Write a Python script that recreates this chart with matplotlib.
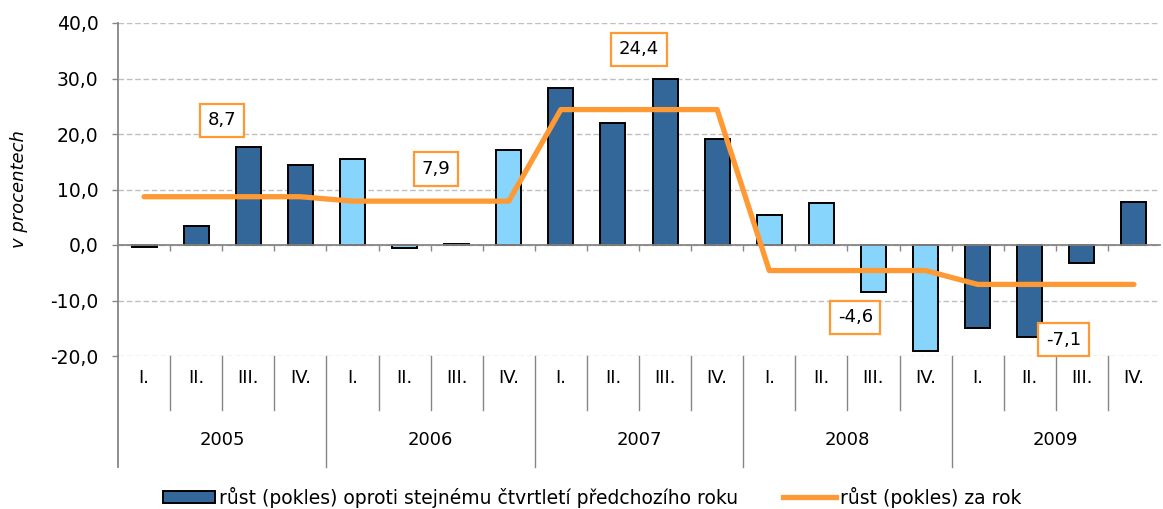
import matplotlib
matplotlib.use("Agg")
import matplotlib.pyplot as plt
from matplotlib.patches import Patch
from matplotlib.lines import Line2D
import matplotlib.transforms as mtransforms

plt.rcParams['font.family'] = ['DejaVu Sans']
FS = 13

# data
years = ["2005", "2006", "2007", "2008", "2009"]
quarters = ["I.", "II.", "III.", "IV."]
quarterly = [-0.3, 3.4, 17.6, 14.4,
             15.5, -0.5, 0.2, 17.1,
             28.3, 22.0, 29.9, 19.1,
             5.4, 7.6, -8.5, -19.1,
             -15.0, -16.6, -3.2, 7.7]
annual = [8.7, 7.9, 24.4, -4.6, -7.1]
light_years = ["2006", "2008"]
# where the value boxes sit
label_x = [1.5, 5.6, 9.5, 13.65, 17.65]
label_y = [22.5, 13.7, 35.3, -13.0, -17.1]

dark = "#336699"
light = "#87D5FC"
orange = "#FF9933"
grid_c = "#BFBFBF"
axis_c = "#868686"

fig = plt.figure(figsize=(11.63, 5.09), dpi=100)
ax = fig.add_axes([118 / 1163, 1 - 356 / 509, (1160 - 118) / 1163, (356 - 23) / 509])

n = len(quarterly)
x = list(range(n))
colors = []
for y in years:
    colors += [light if y in light_years else dark] * 4
ax.bar(x, quarterly, width=0.48, color=colors, edgecolor="black", linewidth=1.4, zorder=3)

line_vals = []
for v in annual:
    line_vals += [v] * 4
ax.plot(x, line_vals, color=orange, linewidth=3.8, solid_joinstyle="round",
        solid_capstyle="round", zorder=4)

for i, v in enumerate(annual):
    ax.text(label_x[i], label_y[i], f"{v:.1f}".replace(".", ","), ha="center", va="center",
            fontsize=FS, zorder=5,
            bbox=dict(boxstyle="square,pad=0.42", fc="white", ec=orange, lw=1.6))

ax.set_xlim(-0.5, n - 0.5)
ax.set_ylim(-20, 40)
ax.set_yticks(range(-20, 41, 10))
ax.set_yticklabels([f"{t:.1f}".replace(".", ",") for t in range(-20, 41, 10)], fontsize=FS + 0.5)
ax.yaxis.grid(True, color=grid_c, linestyle=(0, (4, 2)), linewidth=1)
ax.set_axisbelow(True)
ax.tick_params(axis="y", length=4, color=axis_c, width=1, pad=10)
ax.set_ylabel("v procentech", fontsize=FS, style="italic")
ax.yaxis.set_label_coords(-0.086, 0.5)

for s in ["top", "right"]:
    ax.spines[s].set_visible(False)
ax.spines["left"].set_color(axis_c)
ax.spines["left"].set_linewidth(1.3)
ax.spines["bottom"].set_position(("data", 0))
ax.spines["bottom"].set_color(axis_c)
ax.spines["bottom"].set_linewidth(1.3)
ax.spines["bottom"].set_zorder(3.5)
ax.set_xticks([i - 0.5 for i in range(1, n)])
ax.set_xticklabels([])
ax.tick_params(axis="x", length=4, color=axis_c, width=1)

# category axis below the plot
trans = mtransforms.blended_transform_factory(ax.transData, ax.transAxes)
px = 1.0 / (356 - 23)
for i in range(n):
    ax.text(i, -22 * px, quarters[i % 4], transform=trans, ha="center", va="center",
            fontsize=FS, clip_on=False)
for i in range(1, n):
    h = 111 if i % 4 == 0 else 54
    ax.plot([i - 0.5, i - 0.5], [0, -h * px], transform=trans, color=axis_c, lw=1, clip_on=False)
ax.plot([-0.5, -0.5], [0, -111 * px], transform=trans, color=axis_c, lw=1.3, clip_on=False)
for j, y in enumerate(years):
    ax.text(4 * j + 1.5, -84 * px, y, transform=trans, ha="center", va="center",
            fontsize=FS, clip_on=False)

handles = [Patch(facecolor=dark, edgecolor="black", linewidth=1.4),
           Line2D([0], [0], color=orange, linewidth=3.8)]
fig.legend(handles, ["růst (pokles) oproti stejnému čtvrtletí předchozího roku", "růst (pokles) za rok"],
           loc="center", bbox_to_anchor=(0.509, 1 - 497 / 509), ncol=2, frameon=False,
           fontsize=13.5, handlelength=2.8, handleheight=0.55, handletextpad=0.2, columnspacing=2.4)

fig.savefig("out.png", dpi=100)
